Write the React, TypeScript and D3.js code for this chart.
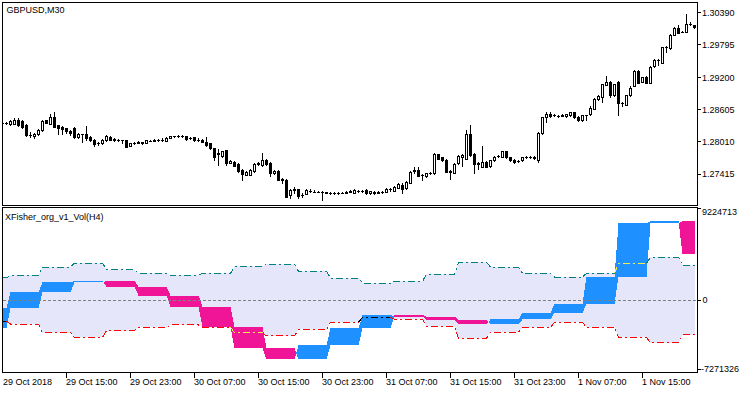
import React from "react";
import * as d3 from "d3";

const W = 750;
const H = 394;

const symbolTitle = "GBPUSD,M30";
const indicatorTitle = "XFisher_org_v1_Vol(H4)";
const firstBarTime = Date.parse("2018-10-29T07:00:00Z");
const barMinutes = 30;

// M30 candles (open, high, low, close)
const openPrices = [
  1.2836, 1.2835, 1.2834, 1.2834, 1.2842, 1.284, 1.2832, 1.2813, 1.2811, 1.2815,
  1.2822, 1.2841, 1.2834, 1.2846, 1.2831, 1.2829, 1.2826, 1.2821, 1.2826, 1.2809,
  1.2815, 1.2815, 1.281, 1.2805, 1.2798, 1.2799, 1.2804, 1.281, 1.2805, 1.2805,
  1.2804, 1.2804, 1.2794, 1.2798, 1.2799, 1.28, 1.2799, 1.2803, 1.2803, 1.2804,
  1.2804, 1.2803, 1.2808, 1.2811, 1.2811, 1.2812, 1.2811, 1.2807, 1.2809, 1.2804,
  1.2805, 1.2801, 1.2798, 1.2789, 1.2779, 1.2774, 1.2785, 1.2762, 1.2764, 1.276,
  1.2749, 1.274, 1.274, 1.2747, 1.276, 1.2758, 1.2768, 1.2762, 1.2743, 1.2747,
  1.2731, 1.273, 1.2703, 1.2712, 1.2713, 1.2703, 1.2705, 1.2711, 1.2709, 1.2709,
  1.2709, 1.2708, 1.2707, 1.2707, 1.2706, 1.2707, 1.2707, 1.2709, 1.2707, 1.2711,
  1.2711, 1.2712, 1.2706, 1.2709, 1.2707, 1.2708, 1.2709, 1.2714, 1.2711, 1.2716,
  1.2722, 1.2715, 1.2725, 1.2747, 1.2749, 1.2739, 1.2737, 1.2743, 1.2743, 1.2778,
  1.2772, 1.2768, 1.2746, 1.2744, 1.2761, 1.2772, 1.277, 1.2815, 1.2779, 1.276,
  1.2755, 1.2764, 1.2756, 1.2767, 1.2774, 1.2773, 1.2783, 1.2772, 1.2768, 1.2765,
  1.2767, 1.2772, 1.2773, 1.2773, 1.2767, 1.2817, 1.2846, 1.2853, 1.285, 1.2849,
  1.2849, 1.2848, 1.285, 1.2855, 1.2847, 1.2841, 1.285, 1.2852, 1.2862, 1.2879,
  1.2883, 1.2906, 1.2912, 1.2887, 1.2912, 1.2872, 1.2869, 1.2887, 1.2904, 1.2932,
  1.2912, 1.2921, 1.291, 1.294, 1.2951, 1.2947, 1.2975, 1.2973, 1.2998, 1.301,
  1.3004, 1.3004, 1.3018, 1.3016,
];
const highPrices = [
  1.2837, 1.2838, 1.2842, 1.2844, 1.2844, 1.2841, 1.2833, 1.2819, 1.2817, 1.2824,
  1.2841, 1.2842, 1.2853, 1.2855, 1.2832, 1.283, 1.2827, 1.2822, 1.2829, 1.2817,
  1.2816, 1.283, 1.2811, 1.2806, 1.2801, 1.2806, 1.2813, 1.2812, 1.2808, 1.2806,
  1.2805, 1.2805, 1.2799, 1.2801, 1.2802, 1.2801, 1.2805, 1.2804, 1.2806, 1.2806,
  1.2807, 1.2809, 1.2812, 1.2812, 1.2813, 1.2813, 1.2812, 1.281, 1.281, 1.2808,
  1.2806, 1.281, 1.2799, 1.279, 1.2787, 1.2784, 1.2786, 1.2767, 1.2765, 1.2761,
  1.275, 1.2747, 1.275, 1.2761, 1.2763, 1.278, 1.2769, 1.2763, 1.2748, 1.2748,
  1.2735, 1.2732, 1.2713, 1.2717, 1.2714, 1.2707, 1.2713, 1.2713, 1.2712, 1.271,
  1.2711, 1.2709, 1.2709, 1.2708, 1.2708, 1.2708, 1.271, 1.2712, 1.2713, 1.2712,
  1.2712, 1.2713, 1.2711, 1.271, 1.271, 1.2711, 1.2716, 1.2715, 1.2719, 1.2725,
  1.2724, 1.2728, 1.2747, 1.2755, 1.2754, 1.2742, 1.2744, 1.2746, 1.278, 1.2779,
  1.2773, 1.2769, 1.2749, 1.2761, 1.2777, 1.2778, 1.2823, 1.2832, 1.278, 1.2763,
  1.2793, 1.2765, 1.2768, 1.2774, 1.2777, 1.2784, 1.2784, 1.2773, 1.2769, 1.2767,
  1.2773, 1.2775, 1.2775, 1.2774, 1.2819, 1.2847, 1.2856, 1.2855, 1.2853, 1.2851,
  1.2852, 1.2853, 1.2856, 1.2856, 1.2848, 1.2851, 1.2851, 1.2866, 1.2881, 1.2887,
  1.2908, 1.2922, 1.2913, 1.2908, 1.2913, 1.2875, 1.2888, 1.2903, 1.2933, 1.2934,
  1.2921, 1.2922, 1.2941, 1.2953, 1.2954, 1.2976, 1.2978, 1.3, 1.3012, 1.3016,
  1.3005, 1.3036, 1.3021, 1.3017,
];
const lowPrices = [
  1.2833, 1.2833, 1.2832, 1.2833, 1.283, 1.2827, 1.2811, 1.281, 1.2807, 1.2814,
  1.2821, 1.2835, 1.2833, 1.2828, 1.2816, 1.2816, 1.2818, 1.2813, 1.2808, 1.2808,
  1.2801, 1.2805, 1.2803, 1.2793, 1.2795, 1.2797, 1.2803, 1.2804, 1.2803, 1.2802,
  1.2799, 1.2791, 1.2793, 1.2797, 1.2798, 1.2797, 1.2798, 1.2802, 1.2802, 1.2802,
  1.2802, 1.2802, 1.2807, 1.281, 1.281, 1.281, 1.2805, 1.2806, 1.2803, 1.2803,
  1.28, 1.2794, 1.2788, 1.2768, 1.2758, 1.2773, 1.2758, 1.2761, 1.2756, 1.2746,
  1.273, 1.2739, 1.2739, 1.2746, 1.2758, 1.2757, 1.2759, 1.2738, 1.2742, 1.273,
  1.2725, 1.2699, 1.2698, 1.2706, 1.2697, 1.2699, 1.2704, 1.2709, 1.2708, 1.2708,
  1.2693, 1.2706, 1.2705, 1.2705, 1.2705, 1.2706, 1.2706, 1.2708, 1.2706, 1.2708,
  1.2708, 1.2705, 1.2705, 1.2705, 1.2706, 1.2707, 1.2708, 1.2711, 1.271, 1.2715,
  1.2707, 1.2714, 1.2724, 1.2743, 1.2737, 1.273, 1.2736, 1.2742, 1.2742, 1.2769,
  1.2766, 1.2745, 1.2733, 1.2743, 1.276, 1.2756, 1.2769, 1.2775, 1.2743, 1.275,
  1.2754, 1.2754, 1.2755, 1.2766, 1.2773, 1.2772, 1.2771, 1.2766, 1.2762, 1.2763,
  1.2766, 1.2771, 1.2771, 1.277, 1.2764, 1.2816, 1.2838, 1.2847, 1.2849, 1.2846,
  1.2848, 1.2847, 1.2849, 1.2845, 1.284, 1.2839, 1.2841, 1.2851, 1.2861, 1.2878,
  1.2875, 1.2905, 1.2884, 1.2886, 1.2851, 1.2867, 1.2868, 1.2886, 1.2903, 1.2909,
  1.2911, 1.2909, 1.2909, 1.2939, 1.2943, 1.2946, 1.2967, 1.2972, 1.2997, 1.3001,
  1.3003, 1.3003, 1.3016, 1.3011,
];
const closePrices = [
  1.2835, 1.2836, 1.284, 1.2842, 1.2831, 1.2829, 1.2813, 1.2814, 1.2816, 1.2823,
  1.284, 1.2836, 1.2846, 1.2829, 1.2827, 1.2824, 1.282, 1.2818, 1.2809, 1.2816,
  1.2815, 1.2807, 1.2804, 1.2797, 1.2799, 1.2805, 1.2811, 1.2805, 1.2806, 1.2804,
  1.2804, 1.2792, 1.2798, 1.2799, 1.2801, 1.2799, 1.2804, 1.2803, 1.2804, 1.2804,
  1.2805, 1.2808, 1.2811, 1.2811, 1.2812, 1.2811, 1.2806, 1.2808, 1.2804, 1.2804,
  1.2801, 1.2795, 1.2789, 1.2773, 1.278, 1.2783, 1.2762, 1.2765, 1.2757, 1.2747,
  1.2741, 1.2746, 1.2749, 1.276, 1.2761, 1.2768, 1.276, 1.2743, 1.2747, 1.2731,
  1.2732, 1.27, 1.2712, 1.2713, 1.2701, 1.2703, 1.2712, 1.2711, 1.2709, 1.2709,
  1.2709, 1.2707, 1.2707, 1.2706, 1.2707, 1.2707, 1.2709, 1.271, 1.2712, 1.2711,
  1.2711, 1.2706, 1.271, 1.2706, 1.2708, 1.2709, 1.2714, 1.2713, 1.2717, 1.2723,
  1.2714, 1.2727, 1.2746, 1.2748, 1.2738, 1.274, 1.2743, 1.2744, 1.2778, 1.277,
  1.2767, 1.2746, 1.2747, 1.276, 1.2775, 1.2776, 1.2816, 1.2776, 1.276, 1.2761,
  1.2764, 1.2755, 1.2767, 1.2772, 1.2775, 1.2783, 1.2772, 1.2767, 1.2763, 1.2766,
  1.2772, 1.2773, 1.2773, 1.2771, 1.2818, 1.2846, 1.2853, 1.2848, 1.2851, 1.2848,
  1.285, 1.2852, 1.2855, 1.2846, 1.2841, 1.285, 1.285, 1.2864, 1.2879, 1.2885,
  1.2907, 1.2912, 1.2887, 1.2907, 1.2872, 1.2873, 1.2887, 1.2901, 1.2932, 1.291,
  1.292, 1.291, 1.2939, 1.2951, 1.2952, 1.2975, 1.2976, 1.2998, 1.301, 1.3002,
  1.3004, 1.3018, 1.3019, 1.3012,
];

const priceTicks = [1.3039, 1.29795, 1.292, 1.28605, 1.2801, 1.27415];
const priceDomain = [1.27415, 1.3039];

const timeTickTimes = [
  "2018-10-29T07:00:00Z", "2018-10-29T15:00:00Z", "2018-10-29T23:00:00Z",
  "2018-10-30T07:00:00Z", "2018-10-30T15:00:00Z", "2018-10-30T23:00:00Z",
  "2018-10-31T07:00:00Z", "2018-10-31T15:00:00Z", "2018-10-31T23:00:00Z",
  "2018-11-01T07:00:00Z", "2018-11-01T15:00:00Z",
];
const timeTickLabels = [
  "29 Oct 2018", "29 Oct 15:00", "29 Oct 23:00", "30 Oct 07:00", "30 Oct 15:00",
  "30 Oct 23:00", "31 Oct 07:00", "31 Oct 15:00", "31 Oct 23:00", "1 Nov 07:00",
  "1 Nov 15:00",
];

// H4 indicator values, first H4 bar = 29 Oct 00:00
const h4Start = Date.parse("2018-10-29T00:00:00Z");
const fisherH4 = [
  -2802000, -803000, 797000, 1777000, 1926000, 1357000, 457000, -623000,
  -2642000, -4802000, -5902000, -4472000, -2802000, -1473000, -1623000, -1973000,
  -2402000, -1903000, -1243000, -373000, 2356000, 7695000, 7925000, 4596000,
];
// levels, first H4 bar = 29 Oct 04:00
const levelStart = Date.parse("2018-10-29T04:00:00Z");
const upLevelH4 = [
  2256000, 2496000, 3326000, 3726000, 3056000, 2696000, 2496000, 2696000,
  3396000, 3596000, 2896000, 2226000, 1697000, 1896000, 2596000, 3796000,
  3326000, 2696000, 2326000, 2696000, 3696000, 4296000, 3496000,
];
const dnLevelH4 = [
  -2073000, -2373000, -3242000, -3702000, -3042000, -2702000, -2472000, -2702000,
  -3242000, -3572000, -2902000, -2203000, -1703000, -1903000, -2602000, -3802000,
  -3202000, -2702000, -2203000, -2702000, -3702000, -4242000, -3472000,
];
const indMax = 9224713;
const indMin = -7271326;

const FONT = "'Liberation Sans', Arial, sans-serif";
const C_BLUE = "#1E90FF";
const C_PINK = "#F01496";
const C_LAV = "#E6E6FA";
const C_TEAL = "#008080";
const C_RED = "#FF0000";
const C_YEL = "#F2EE50";

type Pt = [number, number, number];

export default function App() {
  const n = openPrices.length;
  const x = d3.scaleLinear().domain([0, 1]).range([2.5, 6.5]);
  const yP = d3.scaleLinear().domain(priceDomain).range([174, 12.7]);
  const yI = d3.scaleLinear().domain([indMin, indMax]).range([373, 208]);
  const bars = d3.range(n);
  const H4 = 4 * 3600 * 1000;
  const tOf = (i: number) => firstBarTime + i * barMinutes * 60000;
  const fIdx = (i: number) => Math.floor((tOf(i) - h4Start) / H4);
  const lIdx = (i: number) => Math.floor((tOf(i) - levelStart) / H4);

  const A = bars.map((i) => fisherH4[fIdx(i)]);
  const B = bars.map((i) => fisherH4[fIdx(i) - 1]);
  const U = bars.map((i) => upLevelH4[lIdx(i)]);
  const D = bars.map((i) => dnLevelH4[lIdx(i)]);

  const lavPath = d3
    .area<number>()
    .x((i) => x(i))
    .y0((i) => yI(D[i]))
    .y1((i) => yI(U[i]))(bars) as string;

  // colour band between fisher and its previous H4 value
  type Piece = { p0: Pt; p1: Pt; up: boolean };
  const pieces: Piece[] = [];
  for (let i = 0; i < n - 1; i++) {
    const x0 = x(i), x1 = x(i + 1);
    const a0 = A[i], a1 = A[i + 1], b0 = B[i], b1 = B[i + 1];
    const d0 = a0 - b0, d1 = a1 - b1;
    if (d0 * d1 < 0) {
      const t = d0 / (d0 - d1);
      const xm = x0 + t * (x1 - x0);
      const am = a0 + t * (a1 - a0);
      pieces.push({ p0: [x0, a0, b0], p1: [xm, am, am], up: d0 > 0 });
      pieces.push({ p0: [xm, am, am], p1: [x1, a1, b1], up: d1 > 0 });
    } else {
      pieces.push({ p0: [x0, a0, b0], p1: [x1, a1, b1], up: (d1 !== 0 ? d1 : d0) > 0 });
    }
  }
  const runs: { up: boolean; pts: Pt[] }[] = [];
  pieces.forEach((p) => {
    const last = runs[runs.length - 1];
    if (last && last.up === p.up) last.pts.push(p.p1);
    else runs.push({ up: p.up, pts: [p.p0, p.p1] });
  });
  const runPath = (pts: Pt[]) => {
    const top = pts.map((p) => `${p[0]},${yI(p[1])}`);
    const bot = pts.slice().reverse().map((p) => `${p[0]},${yI(p[2])}`);
    return "M" + top.join("L") + "L" + bot.join("L") + "Z";
  };

  // level lines, coloured where the band crosses them
  const upColor = (i: number) => ((A[i] - U[i]) * (B[i] - U[i]) < 0 ? C_YEL : C_TEAL);
  const dnColor = (i: number) =>
    (A[i] - D[i]) * (B[i] - D[i]) < 0 ? (A[i] > B[i] ? "#000000" : C_YEL) : C_RED;
  const levelRuns = (vals: number[], colorOf: (i: number) => string) => {
    const out: { color: string; pts: [number, number][] }[] = [];
    for (let i = 0; i < n - 1; i++) {
      const c = colorOf(i + 1);
      const last = out[out.length - 1];
      if (last && last.color === c) last.pts.push([x(i + 1), yI(vals[i + 1])]);
      else out.push({ color: c, pts: [[x(i), yI(vals[i])], [x(i + 1), yI(vals[i + 1])]] });
    }
    return out;
  };
  const line = d3.line<[number, number]>();
  const upRuns = levelRuns(U, upColor);
  const dnRuns = levelRuns(D, dnColor);

  const zeroY = Math.round(yI(0)) + 0.5;

  return (
    <svg
      width={W}
      height={H}
      style={{ position: "fixed", left: 0, top: 0, background: "#fff" }}
      fontFamily={FONT}
    >
      <rect x={0} y={0} width={W} height={H} fill="#fff" />
      <defs>
        <clipPath id="topClip">
          <rect x={3} y={3} width={694} height={202} />
        </clipPath>
        <clipPath id="botClip">
          <rect x={3} y={208} width={694} height={164} />
        </clipPath>
      </defs>

      {/* main chart candles */}
      <g clipPath="url(#topClip)" shapeRendering="crispEdges">
        {bars.map((i) => {
          const o = openPrices[i], c = closePrices[i];
          const cx = x(i);
          const yH = Math.round(yP(highPrices[i]));
          const yL = Math.round(yP(lowPrices[i]));
          const yT = Math.round(yP(Math.max(o, c)));
          const yB = Math.round(yP(Math.min(o, c)));
          return (
            <g key={i}>
              <line x1={cx} x2={cx} y1={yH} y2={yL + 1} stroke="#000" strokeWidth={1} />
              {yB - yT < 1 ? (
                <line x1={cx - 1.5} x2={cx + 1.5} y1={yT + 0.5} y2={yT + 0.5} stroke="#000" />
              ) : (
                <rect
                  x={cx - 1}
                  y={yT + 0.5}
                  width={2}
                  height={yB - yT}
                  fill={c > o ? "#fff" : "#000"}
                  stroke="#000"
                  strokeWidth={1}
                />
              )}
            </g>
          );
        })}
      </g>
      <text x={6.5} y={12.5} fontSize={9} fill="#000">
        {symbolTitle}
      </text>

      {/* indicator window */}
      <g clipPath="url(#botClip)">
        <path d={lavPath} fill={C_LAV} shapeRendering="crispEdges" />
        {runs.map((r, k) => (
          <path key={k} d={runPath(r.pts)} fill={r.up ? C_BLUE : C_PINK} shapeRendering="crispEdges" />
        ))}
        <line x1={3} x2={697} y1={zeroY} y2={zeroY} stroke="#808080" strokeDasharray="3,2" shapeRendering="crispEdges" />
        {upRuns.map((r, k) => (
          <path key={"u" + k} d={line(r.pts) as string} fill="none" stroke={r.color} strokeWidth={1} strokeDasharray="7,3,2,3" shapeRendering="crispEdges" />
        ))}
        {dnRuns.map((r, k) => (
          <path key={"d" + k} d={line(r.pts) as string} fill="none" stroke={r.color} strokeWidth={1} strokeDasharray="7,3,2,3" shapeRendering="crispEdges" />
        ))}
      </g>
      <text x={5} y={220} fontSize={9} fill="#000">
        {indicatorTitle}
      </text>

      {/* frames */}
      <g shapeRendering="crispEdges" fill="none" stroke="#000">
        <rect x={2.5} y={2.5} width={695} height={203} />
        <rect x={2.5} y={207.5} width={695} height={165} />
      </g>

      {/* price axis */}
      <g fontSize={9} fill="#000" shapeRendering="crispEdges">
        {priceTicks.map((t, k) => {
          const yy = Math.floor(yP(t)) + 0.5;
          return (
            <g key={k}>
              <line x1={697.5} x2={701} y1={yy} y2={yy} stroke="#000" />
              <text x={702} y={yP(t) + 3.3}>
                {t.toFixed(5)}
              </text>
            </g>
          );
        })}
      </g>

      {/* indicator axis */}
      <g fontSize={9} fill="#000" shapeRendering="crispEdges">
        <line x1={697.5} x2={701} y1={Math.round(yI(indMax)) + 0.5} y2={Math.round(yI(indMax)) + 0.5} stroke="#000" />
        <text x={702} y={yI(indMax) + 7}>{String(indMax)}</text>
        <line x1={697.5} x2={701} y1={zeroY} y2={zeroY} stroke="#000" />
        <text x={702.5} y={yI(0) + 3.2}>0</text>
        <line x1={697.5} x2={701} y1={Math.round(yI(indMin)) - 3.5} y2={Math.round(yI(indMin)) - 3.5} stroke="#000" />
        <text x={701} y={yI(indMin) - 1.5}>{String(indMin)}</text>
      </g>

      {/* time axis */}
      <g fontSize={9} fill="#000" shapeRendering="crispEdges">
        {timeTickTimes.map((s, k) => {
          const idx = (Date.parse(s) - firstBarTime) / (barMinutes * 60000);
          const xx = x(idx);
          return (
            <g key={k}>
              {k > 0 && <line x1={xx} x2={xx} y1={373} y2={378} stroke="#000" />}
              <text x={k === 0 ? 3 : xx - 0.5} y={385}>
                {timeTickLabels[k]}
              </text>
            </g>
          );
        })}
      </g>
    </svg>
  );
}
